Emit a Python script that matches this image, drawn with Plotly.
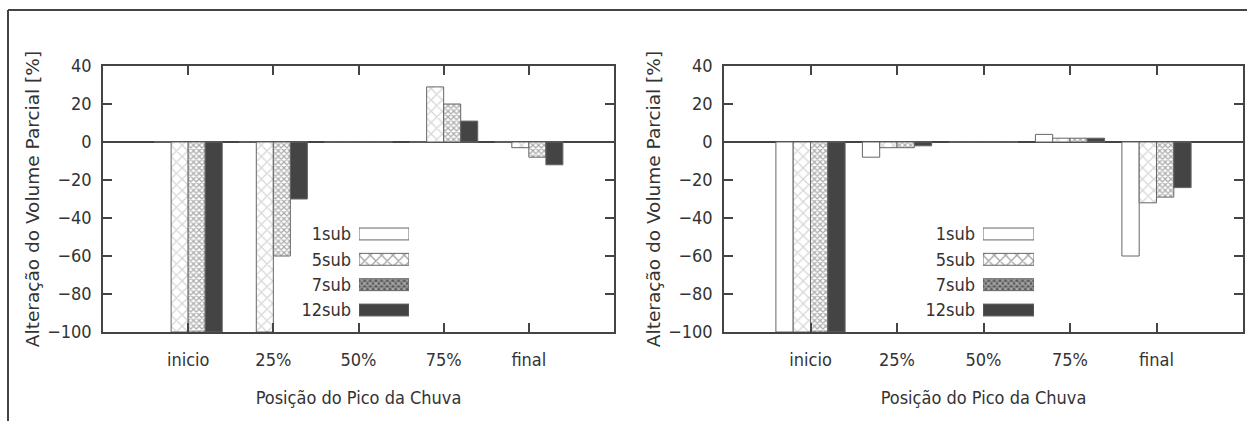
import plotly.graph_objects as go

# Rain-peak position categories
categories = ["inicio", "25%", "50%", "75%", "final"]
series_names = ["1sub", "5sub", "7sub", "12sub"]

# Left panel: change in partial volume [%]
left_1sub = [0, 0, 0, 0, 0]
left_5sub = [-100, -100, 0, 29, -3]
left_7sub = [-100, -60, 0, 20, -8]
left_12sub = [-100, -30, 0, 11, -12]

# Right panel: change in partial volume [%]
right_1sub = [-100, -8, 0, 4, -60]
right_5sub = [-100, -3, 0, 2, -32]
right_7sub = [-100, -3, 0, 2, -29]
right_12sub = [-100, -2, 0, 2, -24]

y_ticks = [-100, -80, -60, -40, -20, 0, 20, 40]

W, H = 1247, 421
FONT = "DejaVu Sans Condensed, DejaVu Sans"
TITLE_FONT = "DejaVu Sans"
INK = "#333333"
LINE = "#444444"

# fill styles for each series (gnuplot-like patterns)
styles = [
    dict(color="white", pattern=dict(shape="")),
    dict(color="white", pattern=dict(shape="x", fgcolor="#b0b0b0", bgcolor="white", size=8, solidity=0.3)),
    dict(color="#5a5a5a", pattern=dict(shape="x", fgcolor="#5a5a5a", bgcolor="white", size=4, solidity=0.55)),
    dict(color="#444444", pattern=dict(shape="")),
]


def px_x(p):
    return p / W


def px_y(p):
    return 1 - p / H


fig = go.Figure()

panels = [
    (("x", "y"), [left_1sub, left_5sub, left_7sub, left_12sub]),
    (("x2", "y2"), [right_1sub, right_5sub, right_7sub, right_12sub]),
]
for (xa, ya), data in panels:
    for name, vals, st in zip(series_names, data, styles):
        fig.add_trace(go.Bar(
            x=categories, y=vals, name=name, xaxis=xa, yaxis=ya,
            marker=dict(color=st["color"], pattern=st["pattern"],
                        line=dict(color="#666666", width=1)),
            showlegend=False, hoverinfo="skip",
        ))

# key boxes drawn as one horizontal bar trace per panel
key_len = [1, 1, 1, 1]
for xa, ya in [("x3", "y3"), ("x4", "y4")]:
    fig.add_trace(go.Bar(
        x=key_len, y=series_names, orientation="h", xaxis=xa, yaxis=ya,
        width=0.47,
        marker=dict(
            color=[s["color"] for s in styles],
            pattern=dict(
                shape=["", "x", "x", ""],
                fgcolor=["white", "#b0b0b0", "#5a5a5a", "#444444"],
                bgcolor=["white", "white", "white", "#444444"],
                size=[8, 8, 4, 8],
                solidity=[0.3, 0.3, 0.55, 0.3],
            ),
            line=dict(color="#666666", width=1),
        ),
        showlegend=False, hoverinfo="skip",
    ))

common_x = dict(
    type="category", range=[-1, 5], showline=True, mirror="ticks",
    linecolor=LINE, linewidth=1.5, ticks="inside", ticklen=9,
    tickwidth=1.5, tickcolor=LINE, showgrid=False, zeroline=False,
    automargin=False, ticklabelstandoff=11,
    tickfont=dict(family=FONT, size=18, color=INK),
    title=dict(text="Posição do Pico da Chuva", standoff=22,
               font=dict(family=FONT, size=18, color=INK)),
)
common_y = dict(
    range=[-100, 40], tickvals=y_ticks, showline=True, mirror="ticks",
    linecolor=LINE, linewidth=1.5, ticks="inside", ticklen=9,
    tickwidth=1.5, tickcolor=LINE, showgrid=False,
    zeroline=True, zerolinecolor=LINE, zerolinewidth=1.5,
    automargin=False, ticklabelstandoff=6,
    tickfont=dict(family=FONT, size=18, color=INK),
    title=dict(text="Alteração do Volume Parcial [%]", standoff=3,
               font=dict(family=TITLE_FONT, size=18.5, color=INK)),
)
key_x = dict(range=[0, 1], visible=False, fixedrange=True, automargin=False)
key_y = dict(type="category", autorange="reversed", showline=False, ticks="",
             showgrid=False, zeroline=False, ticklabelstandoff=7,
             automargin=False,
             tickfont=dict(family=FONT, size=18, color=INK))

key_dom_y = [px_y(322.7), px_y(221.3)]

fig.update_layout(
    width=W, height=H,
    margin=dict(l=0, r=0, t=0, b=0, pad=0, autoexpand=False),
    paper_bgcolor="white", plot_bgcolor="white",
    barmode="group", bargap=0.2, bargroupgap=0,
    xaxis=dict(common_x, domain=[px_x(103), px_x(614)], anchor="y"),
    yaxis=dict(common_y, domain=[px_y(332), px_y(66)], anchor="x"),
    xaxis2=dict(common_x, domain=[px_x(724), px_x(1243)], anchor="y2"),
    yaxis2=dict(common_y, domain=[px_y(332), px_y(66)], anchor="x2"),
    xaxis3=dict(key_x, domain=[px_x(359), px_x(409)], anchor="y3"),
    yaxis3=dict(key_y, domain=key_dom_y, anchor="x3"),
    xaxis4=dict(key_x, domain=[px_x(983), px_x(1034)], anchor="y4"),
    yaxis4=dict(key_y, domain=key_dom_y, anchor="x4"),
    shapes=[
        dict(type="line", xref="paper", yref="paper", x0=px_x(8), x1=1,
             y0=px_y(10), y1=px_y(10), line=dict(color=LINE, width=2)),
        dict(type="line", xref="paper", yref="paper", x0=px_x(8), x1=px_x(8),
             y0=px_y(10), y1=0, line=dict(color=LINE, width=2)),
    ],
)

fig.write_html("out.html")
